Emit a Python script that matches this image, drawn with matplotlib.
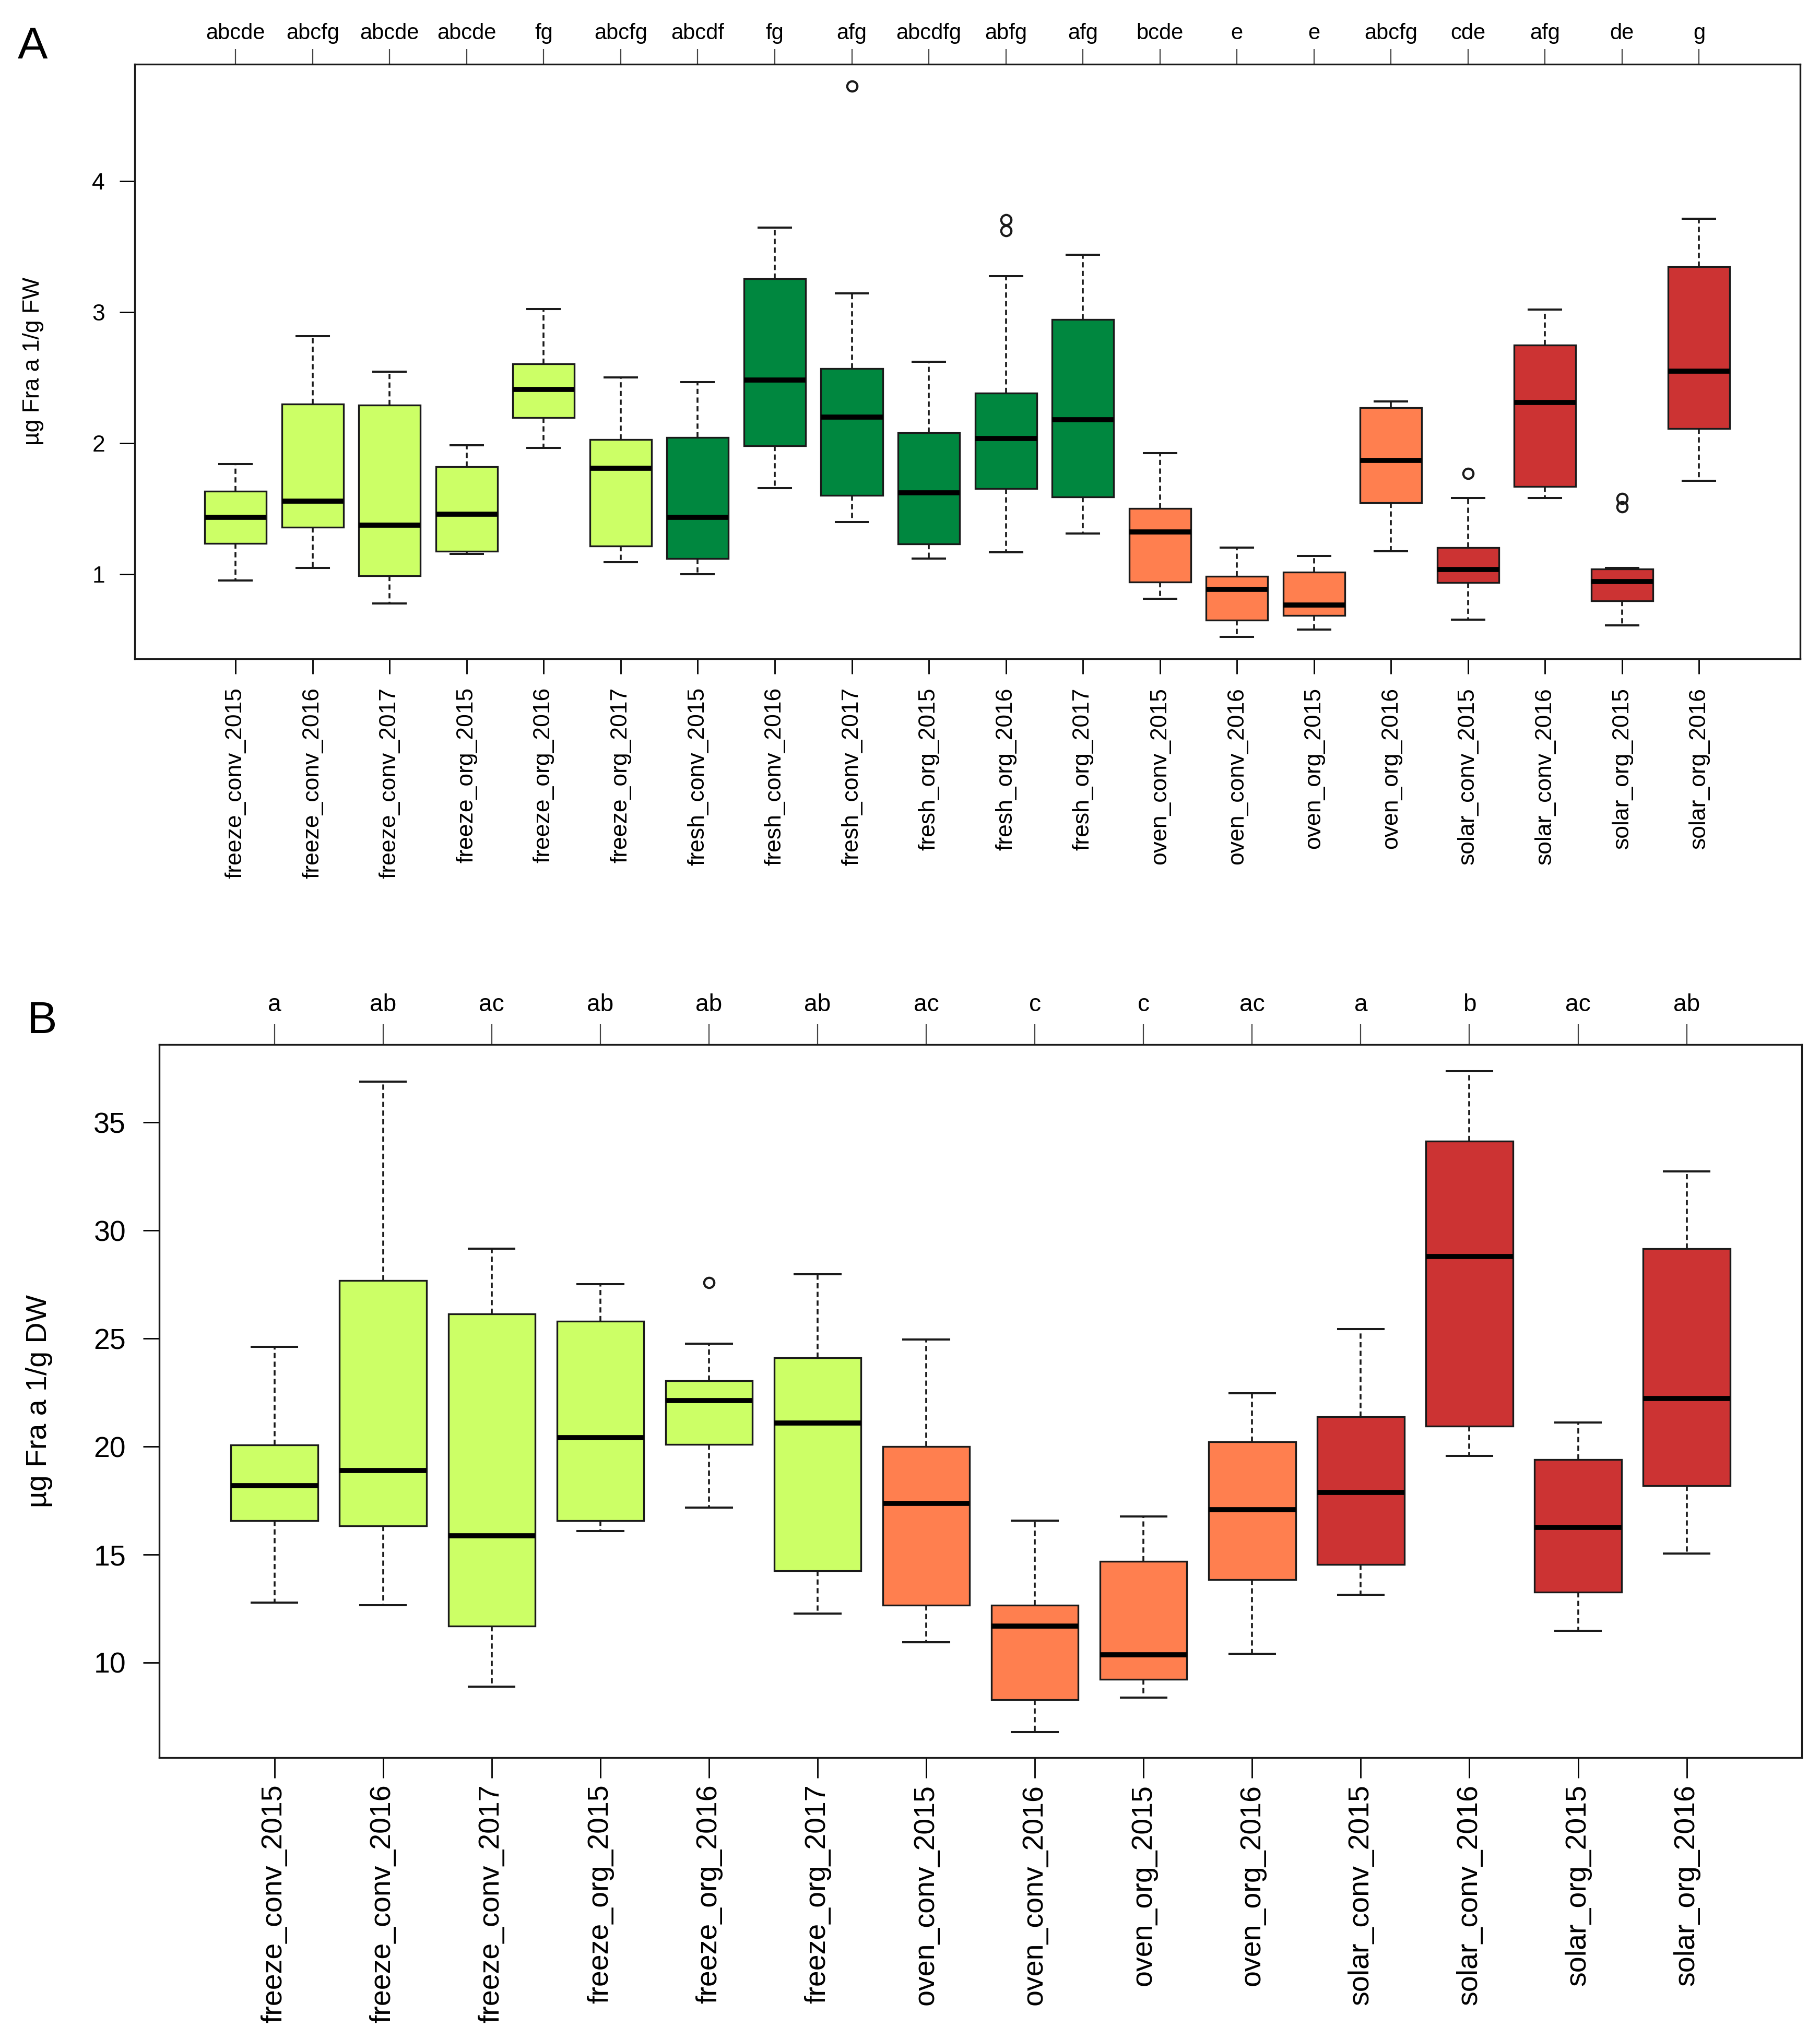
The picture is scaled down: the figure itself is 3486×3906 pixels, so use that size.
import matplotlib
matplotlib.use("Agg")
import matplotlib.pyplot as plt

plt.rcParams['font.family'] = ['Liberation Sans', 'DejaVu Sans']

# ---- panel A: ug Fra a 1 / g FW ----
groups_a = ['freeze_conv_2015', 'freeze_conv_2016', 'freeze_conv_2017',
            'freeze_org_2015', 'freeze_org_2016', 'freeze_org_2017',
            'fresh_conv_2015', 'fresh_conv_2016', 'fresh_conv_2017',
            'fresh_org_2015', 'fresh_org_2016', 'fresh_org_2017',
            'oven_conv_2015', 'oven_conv_2016', 'oven_org_2015', 'oven_org_2016',
            'solar_conv_2015', 'solar_conv_2016', 'solar_org_2015', 'solar_org_2016']
letters_a = ['abcde', 'abcfg', 'abcde', 'abcde', 'fg', 'abcfg', 'abcdf', 'fg', 'afg',
             'abcdfg', 'abfg', 'afg', 'bcde', 'e', 'e', 'abcfg', 'cde', 'afg', 'de', 'g']
whislo_a = [0.953, 1.047, 0.777, 1.153, 1.964, 1.090, 1.000, 1.655, 1.396, 1.120,
            1.166, 1.309, 0.810, 0.521, 0.578, 1.173, 0.651, 1.582, 0.608, 1.712]
q1_a = [1.233, 1.359, 0.987, 1.173, 2.194, 1.213, 1.120, 1.980, 1.599, 1.229,
        1.652, 1.589, 0.940, 0.647, 0.684, 1.545, 0.937, 1.668, 0.794, 2.111]
med_a = [1.432, 1.559, 1.372, 1.456, 2.410, 1.808, 1.432, 2.480, 2.197, 1.619,
         2.034, 2.177, 1.323, 0.884, 0.764, 1.868, 1.037, 2.310, 0.943, 2.550]
q3_a = [1.632, 2.297, 2.290, 1.821, 2.606, 2.028, 2.044, 3.255, 2.570, 2.081,
        2.380, 2.945, 1.502, 0.983, 1.017, 2.270, 1.203, 2.749, 1.040, 3.345]
whishi_a = [1.841, 2.816, 2.546, 1.984, 3.022, 2.500, 2.467, 3.647, 3.145, 2.620,
            3.275, 3.438, 1.925, 1.203, 1.140, 2.317, 1.582, 3.019, 1.047, 3.714]
fliers_a = [[], [], [], [], [], [], [], [], [4.725], [],
            [3.704, 3.621], [], [], [], [], [], [1.768], [], [1.575, 1.515], []]

# ---- panel B: ug Fra a 1 / g DW ----
groups_b = ['freeze_conv_2015', 'freeze_conv_2016', 'freeze_conv_2017',
            'freeze_org_2015', 'freeze_org_2016', 'freeze_org_2017',
            'oven_conv_2015', 'oven_conv_2016', 'oven_org_2015', 'oven_org_2016',
            'solar_conv_2015', 'solar_conv_2016', 'solar_org_2015', 'solar_org_2016']
letters_b = ['a', 'ab', 'ac', 'ab', 'ab', 'ab', 'ac', 'c', 'c', 'ac', 'a', 'b', 'ac', 'ab']
whislo_b = [12.78, 12.66, 8.89, 16.09, 17.17, 12.28, 10.94, 6.78, 8.38, 10.40,
            13.15, 19.57, 11.46, 15.06]
q1_b = [16.56, 16.33, 11.69, 16.56, 20.09, 14.26, 12.66, 8.28, 9.22, 13.83,
        14.54, 20.94, 13.25, 18.18]
med_b = [18.18, 18.89, 15.88, 20.42, 22.14, 21.10, 17.36, 11.69, 10.35, 17.08,
         17.88, 28.81, 16.26, 22.23]
q3_b = [20.07, 27.69, 26.13, 25.80, 23.05, 24.11, 20.00, 12.66, 14.68, 20.23,
        21.38, 34.13, 19.41, 29.17]
whishi_b = [24.63, 36.90, 29.17, 27.52, 24.77, 27.97, 24.96, 16.56, 16.77, 22.46,
            25.45, 37.38, 21.12, 32.74]
fliers_b = [[], [], [], [], [27.59], [], [], [], [], [], [], [], [], []]

colours = {'freeze': '#CCFF66', 'fresh': '#00873F', 'oven': '#FF7F4F', 'solar': '#CC3333'}


def draw_panel(ax, groups, letters, lo, q1, med, q3, hi, fliers, ylim, yticks,
               ylabel, fs, fs_top, tlen_x, tlen_y, pad_top, pad_bot, pad_y, lab_x, margin):
    stats = []
    for i in range(len(groups)):
        stats.append(dict(whislo=lo[i], q1=q1[i], med=med[i], q3=q3[i],
                          whishi=hi[i], fliers=fliers[i]))
    pos = list(range(1, len(groups) + 1))
    bp = ax.bxp(stats, positions=pos, widths=0.8, capwidths=0.42, patch_artist=True,
                manage_ticks=False,
                boxprops=dict(edgecolor='#1a1a1a', linewidth=2.4),
                medianprops=dict(color='black', linewidth=7, solid_capstyle='butt'),
                whiskerprops=dict(color='#1a1a1a', linewidth=2.6, linestyle=(0, (2.8, 1.8))),
                capprops=dict(color='#1a1a1a', linewidth=2.9),
                flierprops=dict(marker='o', markerfacecolor='none',
                                markeredgecolor='#1a1a1a', markersize=14,
                                markeredgewidth=3))
    for box, g in zip(bp['boxes'], groups):
        box.set_facecolor(colours[g.split('_')[0]])
    n = len(groups)
    ax.set_xlim(1 - margin, n + margin)
    ax.set_ylim(*ylim)
    ax.set_xticks(pos)
    ax.set_xticklabels(groups, rotation=90, fontsize=fs, va='top', ha='center')
    ax.set_yticks(yticks)
    ax.set_yticklabels([str(t) for t in yticks], fontsize=fs)
    ax.tick_params(axis='x', direction='out', length=tlen_x, width=2, pad=pad_bot,
                   colors='black')
    ax.tick_params(axis='y', direction='out', length=tlen_y, width=2, pad=pad_y)
    for s in ax.spines.values():
        s.set_linewidth(2.4)
        s.set_color('#1a1a1a')
    top = ax.secondary_xaxis('top')
    top.set_xticks(pos, labels=letters)
    top.tick_params(direction='out', length=tlen_x, width=1.6, pad=pad_top,
                    labelsize=fs_top, color='#444444')
    top.spines['top'].set_visible(False)
    ax.text(lab_x, 0.5, ylabel, rotation=90, ha='center', va='center',
            fontsize=fs, transform=ax.transAxes)


fig = plt.figure(figsize=(34.86, 39.06), dpi=100)

ax_a = fig.add_axes([0.074, 0.677, 0.989 - 0.074, 0.9686 - 0.677])
draw_panel(ax_a, groups_a, letters_a, whislo_a, q1_a, med_a, q3_a, whishi_a, fliers_a,
           (0.355, 4.894), [1, 2, 3, 4], 'µg Fra a 1/g FW', 32, 30,
           21, 21, 7, 19, 20, -0.061, 1.31)

ax_b = fig.add_axes([0.0875, 0.138, 0.990 - 0.0875, 0.4876 - 0.138])
draw_panel(ax_b, groups_b, letters_b, whislo_b, q1_b, med_b, q3_b, whishi_b, fliers_b,
           (5.6, 38.6), [10, 15, 20, 25, 30, 35], 'µg Fra a 1/g DW', 40, 33,
           28, 22, 11, 9, 24, -0.073, 1.06)

fig.text(0.018, 0.977, 'A', fontsize=62, ha='center', va='center')
fig.text(0.023, 0.499, 'B', fontsize=62, ha='center', va='center')

fig.savefig('out.png', dpi=100)
